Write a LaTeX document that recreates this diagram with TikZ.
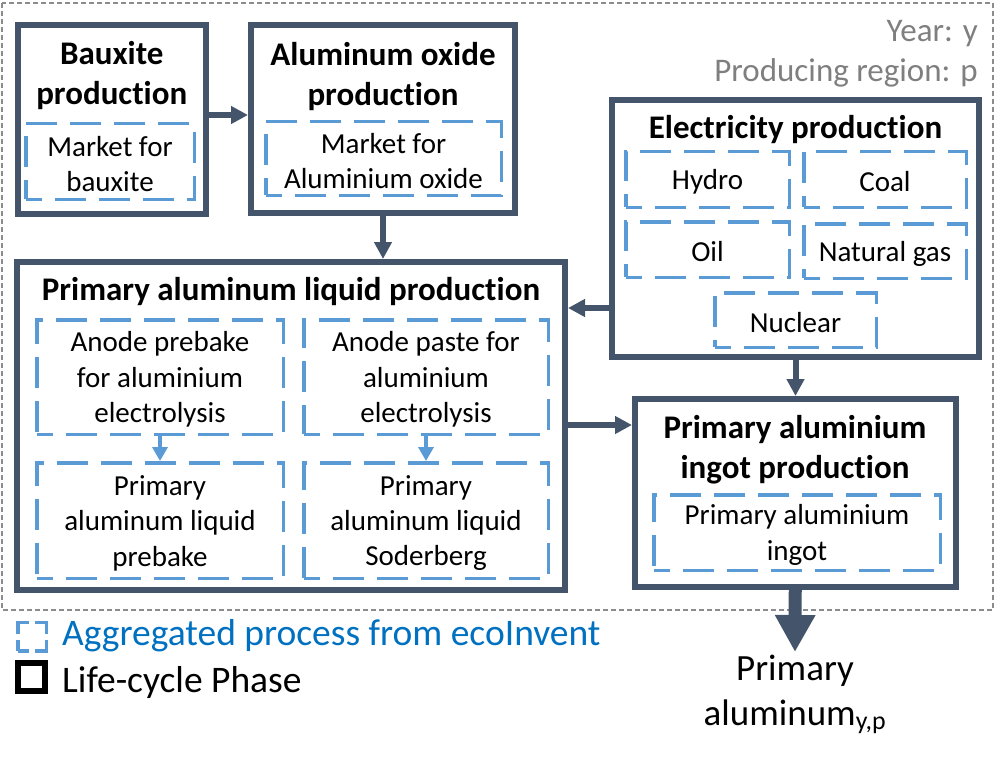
\documentclass[tikz,border=0pt]{standalone}
\usepackage{fontspec}
\setmainfont[Ligatures=NoCommon]{Carlito}
\usetikzlibrary{arrows.meta}
\definecolor{frameC}{HTML}{44546A}
\definecolor{dashC}{HTML}{5B9BD5}
\definecolor{legC}{HTML}{0070C0}
\definecolor{greyC}{HTML}{7F7F7F}
\definecolor{borderC}{HTML}{8C8C8C}
\begin{document}
\begin{tikzpicture}[x=1pt,y=-1pt,
 phase/.style={draw=frameC, line width=6pt, inner sep=0pt},
 agg/.style={draw=dashC, line width=3.5pt, inner sep=0pt, dash pattern=on 31pt off 13pt, dash phase=15pt},
 ttl/.style={font=\fontsize{33}{40}\selectfont\bfseries, align=center, inner sep=0pt},
 txt/.style={font=\fontsize{29}{35.4}\selectfont, align=center, inner sep=0pt, yshift=-2.5pt},
 flow/.style={draw=frameC, line width=6pt, -{Triangle[length=17pt,width=17pt]}},
 sflow/.style={draw=dashC, line width=4pt, -{Triangle[length=14pt,width=15pt]}},
 bigflow/.style={draw=frameC, line width=13pt, -{Triangle[length=37pt,width=38pt]}},
 note/.style={font=\fontsize{33}{40}\selectfont, text=greyC, inner sep=0pt, anchor=base east},
 legtxt/.style={font=\fontsize{37.5}{45}\selectfont, inner sep=0pt, anchor=base west},
]
\useasboundingbox (0,0) rectangle (999,757);
\draw[draw=borderC, line width=2pt, dash pattern=on 5pt off 3pt] (2,3) rectangle (993,610);

\node[note] (yr) at (978,42) {Year: y};
\node[note] (rg) at (978,82) {Producing region: p};

% Bauxite
\node[phase, minimum width=187.5pt, minimum height=189pt] (bx) at (111.75,119.5) {};
\node[ttl] (bxt) at (111.75,76) {Bauxite\\production};
\node[agg, minimum width=168.5pt, minimum height=75.5pt] (bxm) at (110,161.5) {};
\node[txt] (bxmt) at (bxm) {Market for\\bauxite};

% Aluminum oxide
\node[phase, minimum width=264pt, minimum height=187.5pt] (ax) at (383,119.25) {};
\node[ttl] (axt) at (383,77) {Aluminum oxide\\production};
\node[agg, minimum width=235.5pt, minimum height=73.5pt] (axm) at (383.5,158.5) {};
\node[txt] (axmt) at (axm) {Market for\\Aluminium oxide};

% Electricity
\node[phase, minimum width=367pt, minimum height=257pt] (el) at (795.5,228.5) {};
\node[ttl] (elt) at (795.5,130) {Electricity production};
\node[agg, minimum width=163.5pt, minimum height=55.5pt] (hy) at (707.5,179.5) {};
\node[agg, minimum width=162.5pt, minimum height=55.5pt] (co) at (885,179.5) {};
\node[agg, minimum width=163.5pt, minimum height=55.5pt] (oi) at (707.5,249.5) {};
\node[agg, minimum width=162.5pt, minimum height=54.5pt] (ng) at (885,251) {};
\node[agg, minimum width=161.5pt, minimum height=54.5pt] (nu) at (795.5,320) {};
\node[txt] (hyt) at (hy) {Hydro};
\node[txt] (cot) at (co) {Coal};
\node[txt] (oit) at (oi) {Oil};
\node[txt] (ngt) at (ng) {Natural gas};
\node[txt] (nut) at (nu) {Nuclear};

% Primary aluminum liquid
\node[phase, minimum width=548pt, minimum height=328pt] (lq) at (291,426) {};
\node[ttl] (lqt) at (291,292) {Primary aluminum liquid production};
\node[agg, minimum width=246.5pt, minimum height=114.5pt] (ap) at (160,377) {};
\node[agg, minimum width=244.5pt, minimum height=114.5pt] (as) at (426,377) {};
\node[agg, minimum width=246.5pt, minimum height=115.5pt] (lp) at (160,520.5) {};
\node[agg, minimum width=244.5pt, minimum height=115.5pt] (ls) at (426,520.5) {};
\node[txt] (apt) at (ap) {Anode prebake\\for aluminium\\electrolysis};
\node[txt] (ast) at (as) {Anode paste for\\aluminium\\electrolysis};
\node[txt] (lpt) at (lp) {Primary\\aluminum liquid\\prebake};
\node[txt] (lst) at (ls) {Primary\\aluminum liquid\\Soderberg};

% Ingot
\node[phase, minimum width=320.5pt, minimum height=188pt] (ig) at (795.25,493) {};
\node[ttl] (igt) at (795,450) {Primary aluminium\\ingot production};
\node[agg, minimum width=286.5pt, minimum height=75.5pt] (igm) at (797,532.5) {};
\node[txt] (igmt) at (igm) {Primary aluminium\\ingot};

% Output
\node[font=\fontsize{37}{45}\selectfont, align=center, inner sep=0pt] (out) at (795,694) {Primary\\aluminum\textsubscript{y,p}};
\coordinate (outtip) at (795,652);

% connectors
\draw[flow] ([yshift=4.5pt]bx.east) -- ([yshift=4.5pt]bx.east -| ax.west);
\draw[flow] (ax.south) -- (ax.south |- lq.north);
\draw[flow] (el.west |- 0,308) -- (lq.east |- 0,308);
\draw[flow] (el.south) -- (el.south |- ig.north);
\draw[flow] (lq.east |- 0,425) -- (ig.west |- 0,425);
\draw[sflow] (ap.south) -- (lp.north);
\draw[sflow] (as.south) -- (ls.north);
\draw[bigflow] (ig.south) -- (outtip);

% legend
\node[draw=dashC, line width=3.5pt, dash pattern=on 22.5pt off 6pt, dash phase=11.25pt, minimum width=28.5pt, minimum height=28.5pt, inner sep=0pt] (lg1) at (32,636.5) {};
\node[draw=black, line width=6pt, minimum width=27.5pt, minimum height=27.5pt, inner sep=0pt] (lg2) at (31.5,677) {};
\node[legtxt, text=legC] (lg1t) at (62,645) {Aggregated process from ecoInvent};
\node[legtxt] (lg2t) at (62,692) {Life-cycle Phase};
\end{tikzpicture}
\end{document}
